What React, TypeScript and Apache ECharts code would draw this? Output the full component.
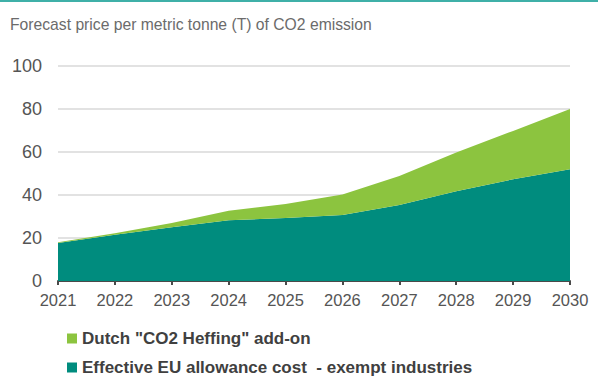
import React, { useEffect, useRef } from "react";
import * as echarts from "echarts";

const years = ["2021", "2022", "2023", "2024", "2025", "2026", "2027", "2028", "2029", "2030"];
const euAllowance = [17.7, 21.5, 25, 28.2, 29.3, 30.7, 35.3, 41.8, 47.3, 52];
const dutchAddOn = [0.3, 0.7, 2, 4.5, 6.5, 9.5, 13.5, 18, 22.5, 28];
const nameAddOn = 'Dutch "CO2 Heffing" add-on';
const nameEU = "Effective EU allowance cost  - exempt industries";
const title = "Forecast price per metric tonne (T) of CO2 emission";

export default function App() {
  const ref = useRef<HTMLDivElement>(null);
  useEffect(() => {
    const chart = echarts.init(ref.current!, undefined, { renderer: "svg" });
    const legendText = { fontSize: 17, fontWeight: "bold", color: "#404040" };
    chart.setOption({
      animation: false,
      backgroundColor: "#ffffff",
      textStyle: { fontFamily: "Liberation Sans, Arial, sans-serif" },
      title: {
        text: title,
        left: 5,
        top: 11,
        textStyle: { fontSize: 15.7, fontWeight: "normal", color: "#6b6b6b" },
      },
      graphic: [
        { type: "rect", shape: { x: 0, y: 0, width: 598, height: 2 }, style: { fill: "#3fb0a8" } },
      ],
      legend: [
        {
          left: 62,
          top: 325,
          itemWidth: 10,
          itemHeight: 10,
          icon: "rect",
          data: [nameAddOn],
          textStyle: legendText,
        },
        {
          left: 62,
          top: 354,
          itemWidth: 10,
          itemHeight: 10,
          icon: "rect",
          data: [nameEU],
          textStyle: legendText,
        },
      ],
      grid: { left: 58, right: 28, top: 66, bottom: 97 },
      xAxis: {
        type: "category",
        data: years,
        boundaryGap: false,
        axisLine: { lineStyle: { color: "#4a4a4a", width: 2 } },
        axisTick: { show: true, length: 4, lineStyle: { color: "#4a4a4a", width: 2 } },
        axisLabel: { color: "#555555", fontSize: 16.5, margin: 10 },
      },
      yAxis: {
        type: "value",
        min: 0,
        max: 100,
        interval: 20,
        axisLine: { show: false },
        axisTick: { show: false },
        splitLine: { lineStyle: { color: "#d9d9d9", width: 1.5 } },
        axisLabel: { color: "#555555", fontSize: 18, margin: 16 },
      },
      series: [
        {
          name: nameEU,
          type: "line",
          stack: "total",
          data: euAllowance,
          symbol: "none",
          lineStyle: { width: 0 },
          itemStyle: { color: "#008c7e" },
          areaStyle: { color: "#008c7e", opacity: 1 },
        },
        {
          name: nameAddOn,
          type: "line",
          stack: "total",
          data: dutchAddOn,
          symbol: "none",
          lineStyle: { width: 0 },
          itemStyle: { color: "#8cc43f" },
          areaStyle: { color: "#8cc43f", opacity: 1 },
        },
      ],
    });
    return () => chart.dispose();
  }, []);
  return <div ref={ref} style={{ width: 598, height: 378, position: "absolute", left: 0, top: 0 }} />;
}
